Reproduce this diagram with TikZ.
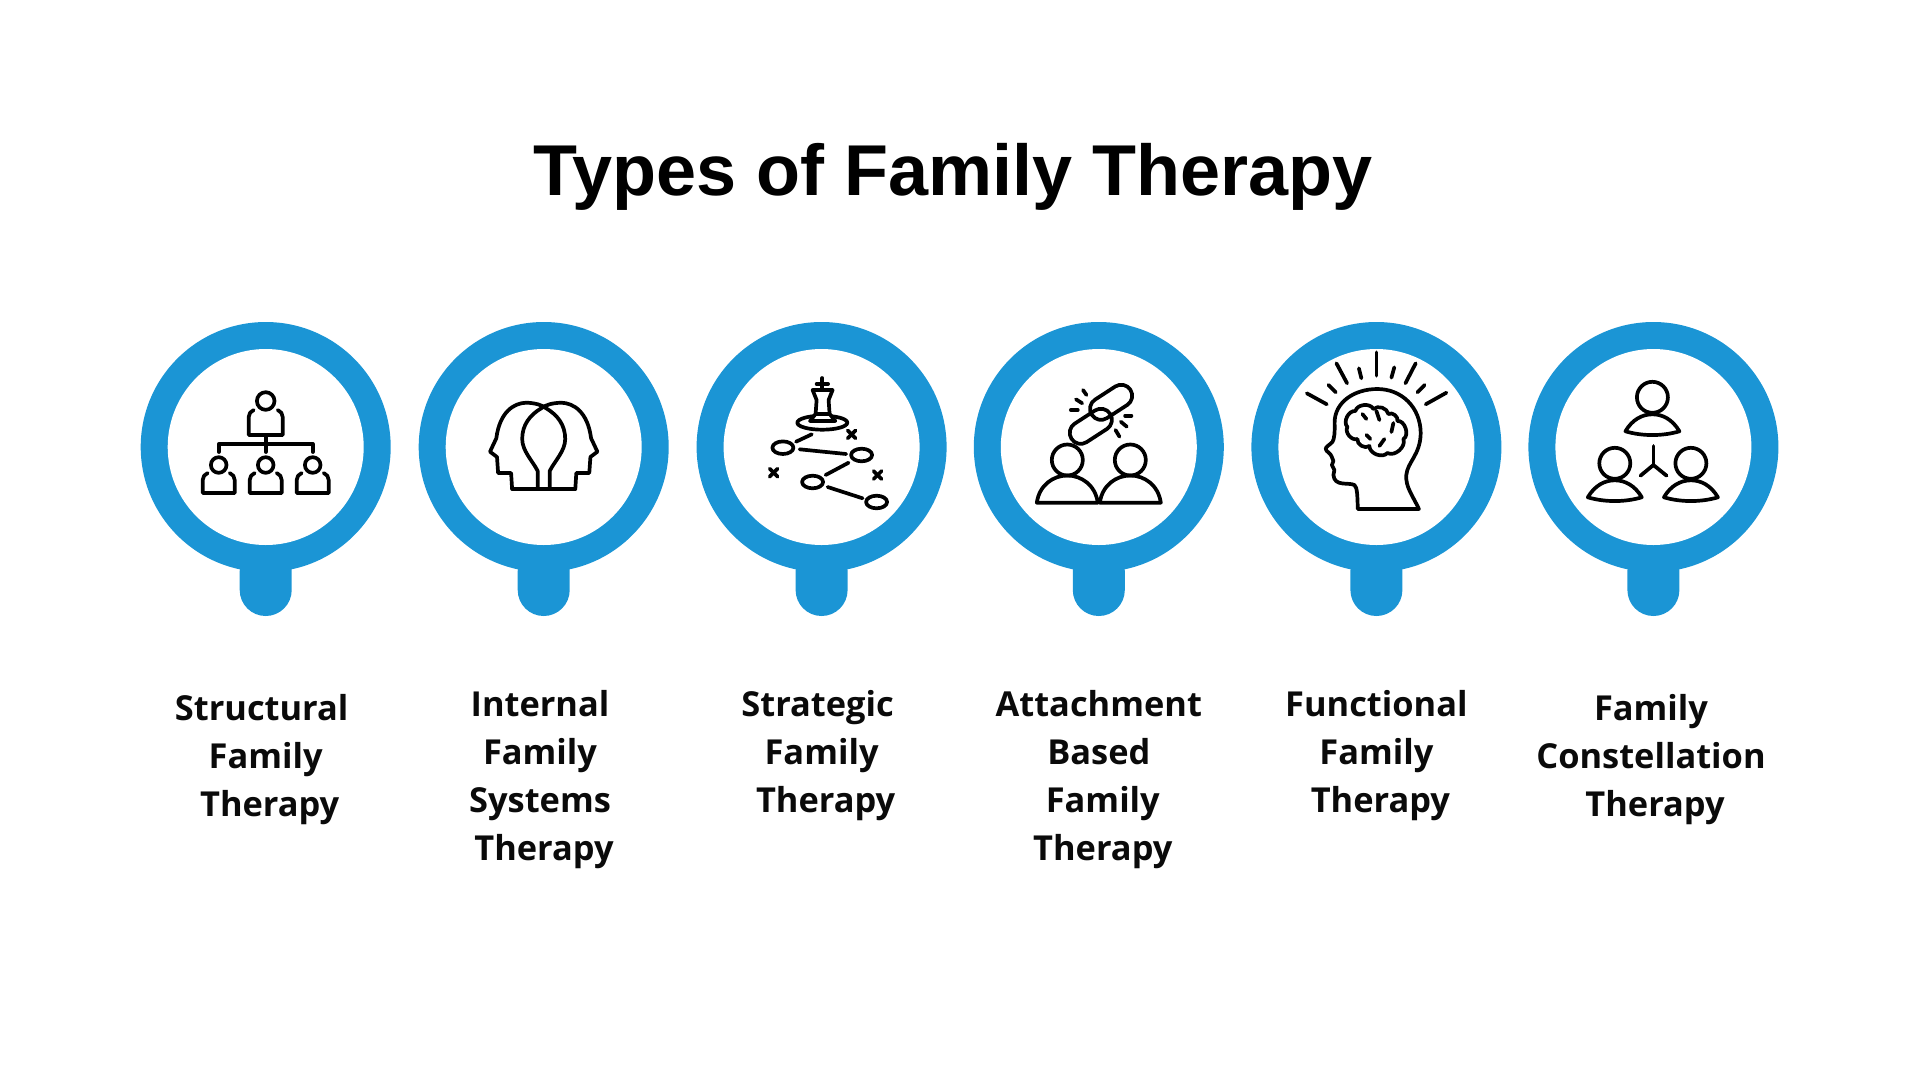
\documentclass[tikz,border=0pt]{standalone}
\usepackage{fontspec}
\setmainfont{Open Sans}
\newfontfamily\titlefont{Liberation Sans}
\definecolor{pinblue}{HTML}{1B95D5}
\definecolor{inkblack}{HTML}{0A0A0A}
\tikzset{>=stealth}
\tikzset{icon/.style = {draw = black, line width = 3.7pt, line cap = round, line join = round}}
\tikzset{caption/.style = {anchor = north, align = center, text = inkblack, inner sep = 0pt, font = \fontsize{34.4}{48}\selectfont\bfseries}}
% head and shoulders, the origin sits on the head
\newcommand{\capperson}[2]{
	\draw [icon] (#1,#2) circle (15.5pt);
	\draw [icon] (#1-27,#2+34) .. controls (#1-20,#2+22) and (#1-10,#2+17) .. (#1,#2+17) .. controls (#1+10,#2+17) and (#1+20,#2+22) .. (#1+27,#2+34) .. controls (#1+10,#2+39) and (#1-10,#2+39) .. cycle;
}
\newcommand{\boxperson}[2]{
	\draw [icon] (#1,#2) circle (7.8pt);
	\draw [icon] (#1-11,#2+8) .. controls (#1-14,#2+9) and (#1-16,#2+12) .. (#1-16,#2+15) -- (#1-16,#2+28) -- (#1+16,#2+28) -- (#1+16,#2+15) .. controls (#1+16,#2+12) and (#1+14,#2+9) .. (#1+11,#2+8);
}

\begin{document}
\begin{tikzpicture}[x = 1pt, y = -1pt]
	\useasboundingbox (0,0) rectangle (1920,1080);

	\node [font = \titlefont\fontsize{72}{72}\selectfont\bfseries, text = black, inner sep = 0pt, anchor = base] (heading) at (953,195) {Types of Family Therapy};

	% the six pins
	\foreach \x in {265.7,543.7,821.6,1098.8,1376.4,1653.4}
	{
		\fill [pinblue, rounded corners = 26pt] (\x-26,545) rectangle (\x+26,616);
		\fill [pinblue] (\x,447) circle (125pt);
		\fill [white] (\x,447) circle (98pt);
	}

	% structural
	\begin{scope}[shift = {(265.7,447)}]
		\draw [icon] (0,-46) circle (8.8pt);
		\draw [icon] (-12,-37) .. controls (-15,-36) and (-17,-33) .. (-17,-30) -- (-17,-12) -- (17,-12) -- (17,-30) .. controls (17,-33) and (15,-36) .. (12,-37);
		\draw [icon] (0,-12) -- (0,5);
		\draw [icon] (-47,5) -- (-47,-3) -- (47,-3) -- (47,5);
		\foreach \x in {-47,0,47}
		{
			\boxperson{\x}{18}
		}
	\end{scope}

	% internal family systems
	\begin{scope}[shift = {(543.7,447)}]
		\foreach \s in {1,-1}
		\draw [icon, xscale = \s] (-31.6,42) -- (-32.6,26) -- (-45.6,26) -- (-46.7,10) -- (-53.7,4.7) -- (-47.4,-8.7) .. controls (-44,-35) and (-30,-44) .. (-17.5,-44.3) .. controls (-8,-44) and (-2,-42) .. (2,-39) .. controls (14,-32) and (21.5,-22) .. (21.5,-8) .. controls (21.5,4) and (11,14) .. (6,24) -- (6,41);
		\draw [icon] (-31.6,42) -- (31.6,42);
	\end{scope}

	% strategic
	\begin{scope}[shift = {(821.6,447)}]
		\draw [icon] (0.7,-24.3) ellipse (25pt and 7pt);
		\draw [icon, fill = white] (-9,-57) -- (11,-57) -- (7,-47) -- (8,-33) -- (13.7,-26) -- (-11.6,-26) -- (-6,-33) -- (-5,-47) -- cycle;
		\draw [icon] (-6,-33) -- (8,-33);
		\draw [icon] (0.7,-69) -- (0.7,-58);
		\draw [icon] (-5,-63) -- (6.5,-63);
		\foreach \x/\y in {-38.7/0.7,40/8,-9/35,55/55}
		\draw [icon] (\x,\y) ellipse (10.5pt and 6.3pt);
		\draw [icon] (-25.6,-5.3) -- (-9.8,-12.7);
		\draw [icon] (-22,2.3) -- (24.6,7);
		\draw [icon] (4,28) -- (27,15.7);
		\draw [icon] (6,40) -- (41,51.3);
		\foreach \x/\y in {30/-12.7,-48/25.7,56/28}
		{
			\draw [icon] (\x-4,\y-4) -- (\x+4,\y+4);
			\draw [icon] (\x-4,\y+4) -- (\x+4,\y-4);
		}
	\end{scope}

	% attachment based
	\begin{scope}[shift = {(1098.8,447)}]
		\foreach \x in {-31.5,31.5}
		{
			\draw [icon] (\x,13) circle (15.5pt);
			\draw [icon] (\x-30.5,55.7) .. controls (\x-28,38) and (\x-14,28.5) .. (\x,28.5) .. controls (\x+14,28.5) and (\x+28,38) .. (\x+30.5,55.7) -- cycle;
		}
		\foreach \x/\y in {12.3/-44.7,-8/-20.7}
		\draw [icon, rounded corners = 10.9pt, shift = {(\x,\y)}, rotate = 33] (-23,-11) rectangle (23,11);
		\draw [icon] (-15.8,-57) -- (-12.3,-52);
		\draw [icon] (-22.8,-47.7) -- (-16.6,-43.7);
		\draw [icon] (-28,-37) -- (-21,-37);
		\draw [icon] (26.3,-31.3) -- (32.6,-31.3);
		\draw [icon] (22,-25.3) -- (28,-20.3);
		\draw [icon] (16.7,-17) -- (20.7,-10.3);
	\end{scope}

	% functional
	\begin{scope}[shift = {(1376.4,447)}]
		\draw [icon] (0,-94.7) -- (0,-71.3);
		\draw [icon] (-40,-83.7) -- (-29.3,-63.7);
		\draw [icon] (39.3,-83.7) -- (29,-63.7);
		\draw [icon] (-17.5,-78.7) -- (-15,-68.7);
		\draw [icon] (17.9,-79.7) -- (15,-69.3);
		\draw [icon] (-47.9,-62) -- (-40.7,-54.7);
		\draw [icon] (48.2,-62) -- (41,-54.7);
		\draw [icon] (-69.6,-53.7) -- (-49.6,-42.7);
		\draw [icon] (70,-54.3) -- (49.3,-42.7);
		\draw [icon] (-18.6,62) -- (42.5,62) .. controls (36,48) and (29,40) .. (29.9,28) .. controls (31,15) and (44,8) .. (44.3,-14) .. controls (44,-40) and (25,-58) .. (1,-58) .. controls (-22,-58) and (-42,-45) .. (-41.8,-24) .. controls (-41.5,-15) and (-42,-8) .. (-44,-5) .. controls (-47,-2) and (-51,0) .. (-50.7,2) .. controls (-50,5) and (-46,6) .. (-45,9) -- (-43,14) -- (-44.5,18) -- (-42,23) -- (-43,28) .. controls (-42,40) and (-28,35) .. (-22,38) .. controls (-19,40) and (-19,50) .. (-18.6,62);
		% brain
		\draw [icon] (-29,-20) to [bend left = 70] (-21,-36) to [bend left = 70] (-3,-38) to [bend left = 60] (12,-33) to [bend left = 70] (21,-26) to [bend left = 80] (27,-8) to [bend left = 70] (11,6) to [bend left = 70] (-7,-1) to [bend left = 70] (-19,-8) to [bend left = 70] cycle;
		\draw [icon] (-14,-33) -- (-10,-28);
		\draw [icon] (0,-36) -- (3,-27);
		\draw [icon] (17,-24) -- (15,-15);
		\draw [icon] (-10,-12) -- (-6,-8);
		\draw [icon] (8,-8) -- (3,-1);
	\end{scope}

	% family constellation
	\begin{scope}[shift = {(1653.4,447)}]
		\capperson{-1}{-49.7}
		\capperson{-38.6}{16.3}
		\capperson{37.5}{16.3}
		\draw [icon] (0,-1) -- (0,18);
		\draw [icon] (-12.9,28.7) -- (0,18) -- (13.2,28.7);
	\end{scope}

	% labels
	\node [caption] (structural) at (265.7,694) {Structural\hspace*{8pt}\\Family\\\hspace*{8pt}Therapy};
	\node [caption] (internal) at (540,690) {Internal\\Family\\Systems\\\hspace*{8pt}Therapy};
	\node [caption] (strategic) at (821.6,690) {Strategic\hspace*{8pt}\\Family\\\hspace*{8pt}Therapy};
	\node [caption] (attachment) at (1098.8,690) {Attachment\\Based\\\hspace*{8pt}Family\\\hspace*{8pt}Therapy};
	\node [caption] (functional) at (1376.4,690) {Functional\\Family\\\hspace*{8pt}Therapy};
	\node [caption] (constellation) at (1651,694) {Family\\Constellation\\\hspace*{8pt}Therapy};
\end{tikzpicture}
\end{document}
